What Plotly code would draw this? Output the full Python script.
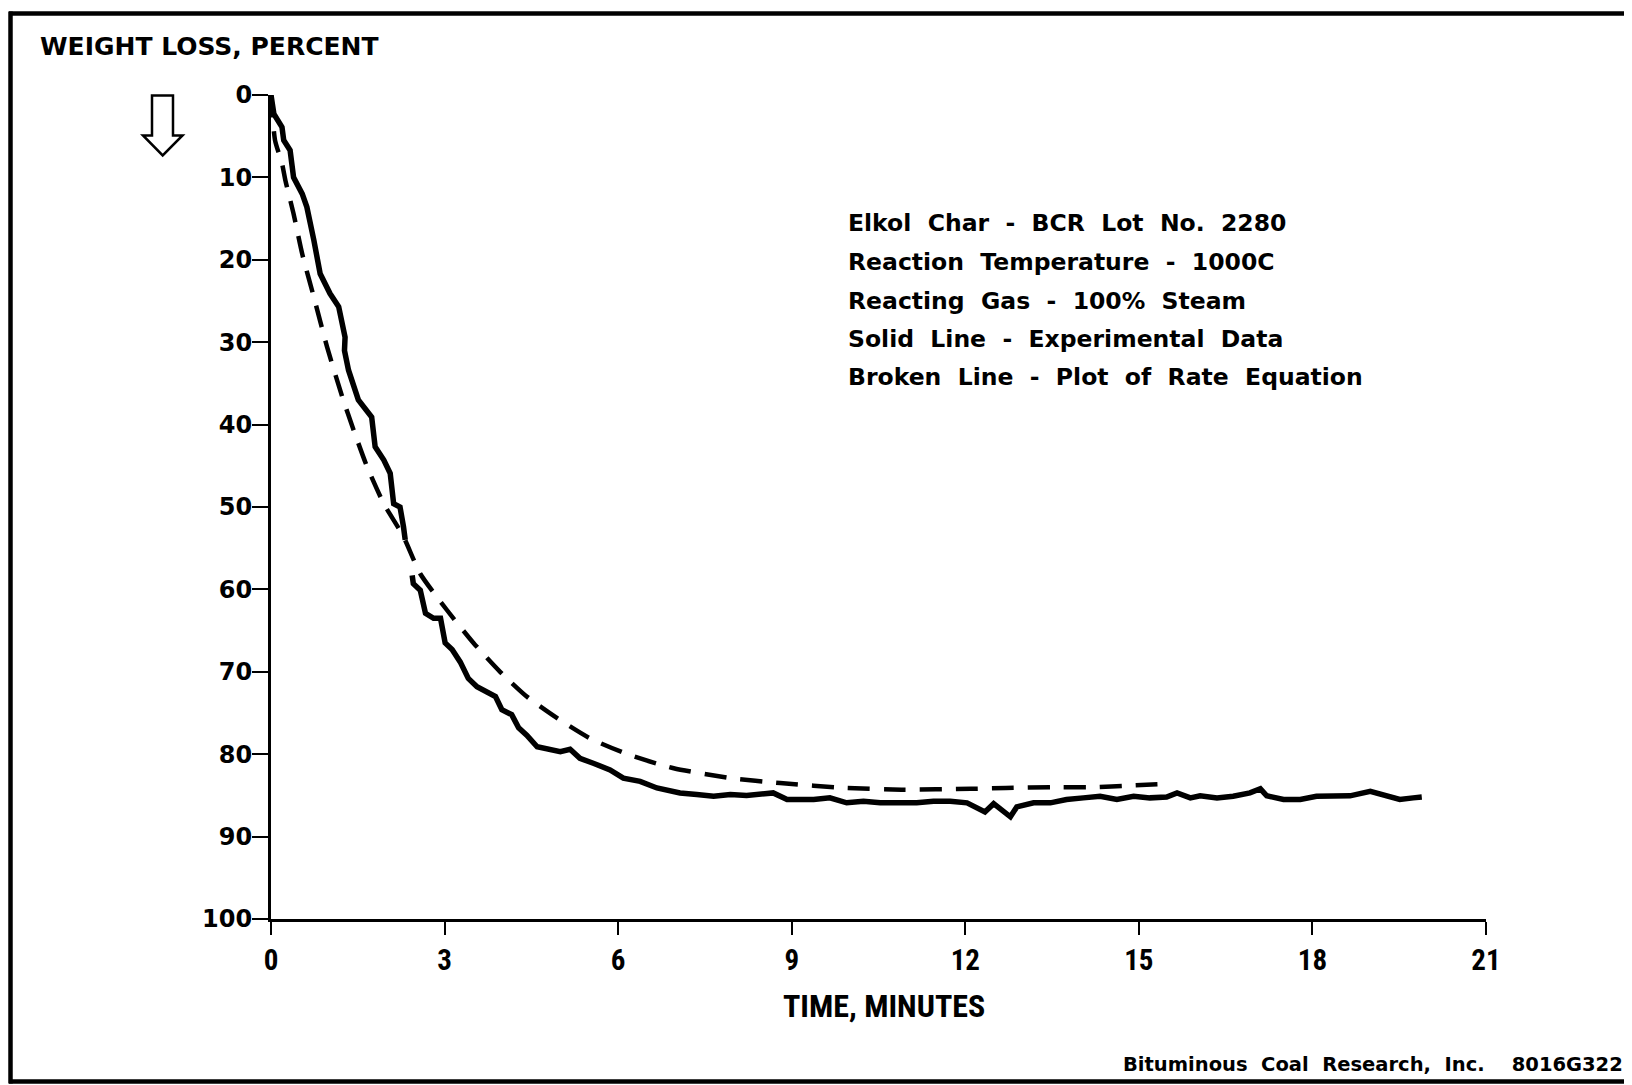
import plotly.graph_objects as go

# ---------------- data ----------------
exp_t = [0, 0.05, 0.19, 0.22, 0.33, 0.39, 0.54, 0.62, 0.74, 0.85,
         1.02, 1.17, 1.28, 1.27, 1.34, 1.51, 1.74, 1.80, 1.95, 2.06,
         2.12, 2.23, 2.29, 2.32, None, 2.44, 2.46, 2.58, 2.61, 2.67,
         2.81, 2.93, 3.01, 3.13, 3.27, 3.41, 3.56, 3.79, 3.88, 3.99,
         4.16, 4.28, 4.42, 4.60, 4.83, 5.00, 5.17, 5.34, 5.57, 5.86,
         6.09, 6.38, 6.67, 7.07, 7.36, 7.65, 7.94, 8.22, 8.68, 8.92,
         9.38, 9.66, 9.95, 10.24, 10.53, 10.87, 11.16, 11.45, 11.74, 12.03,
         12.34, 12.49, 12.78, 12.89, 13.18, 13.47, 13.75, 14.04, 14.33, 14.62,
         14.91, 15.19, 15.48, 15.66, 15.89, 16.06, 16.35, 16.63, 16.92, 17.10,
         17.21, 17.50, 17.79, 18.07, 18.36, 18.65, 19.00, 19.23, 19.51, 19.74,
         19.89]
exp_w = [0, 2.3, 3.9, 5.5, 6.7, 10.0, 12.0, 13.6, 17.6, 21.7,
         24.1, 25.7, 29.4, 31.0, 33.4, 37.0, 39.1, 42.7, 44.3, 45.9,
         49.6, 50.0, 52.4, 54.0, None, 58.3, 59.3, 60.1, 61.3, 62.9,
         63.5, 63.5, 66.5, 67.3, 68.8, 70.8, 71.8, 72.6, 73.0, 74.6,
         75.2, 76.8, 77.7, 79.1, 79.5, 79.7, 79.4, 80.5, 81.1, 81.9,
         82.9, 83.3, 84.1, 84.7, 84.9, 85.1, 84.9, 85.0, 84.7, 85.5,
         85.5, 85.3, 85.9, 85.7, 85.9, 85.9, 85.9, 85.7, 85.7, 85.9,
         87.0, 86.0, 87.6, 86.4, 85.9, 85.9, 85.5, 85.3, 85.1, 85.5,
         85.1, 85.3, 85.2, 84.7, 85.3, 85.05, 85.3, 85.1, 84.7, 84.2,
         85.05, 85.5, 85.5, 85.1, 85.05, 85.05, 84.5, 84.9, 85.5, 85.3,
         85.2]

rate_t = [0, 0.07, 0.19, 0.25, 0.39, 0.54, 0.74, 0.97, 1.23, 1.43,
          1.66, 1.95, 2.29, 2.58, 3.04, 3.50, 3.96, 4.42, 4.94, 5.52,
          6.20, 6.96, 7.94, 8.80, 9.95, 10.9, 12.1, 12.7, 13.5, 14.2,
          14.85, 15.5]
rate_w = [0, 5.5, 8.3, 10.4, 14.4, 19.3, 24.5, 30.6, 36.6, 40.7,
          45.1, 49.6, 53.6, 58.1, 62.5, 66.5, 70.0, 73.0, 75.6, 78.1,
          80.1, 81.7, 82.9, 83.5, 84.1, 84.3, 84.2, 84.1, 84.0, 84.0,
          83.8, 83.6]

x_ticks = [0, 3, 6, 9, 12, 15, 18, 21]
y_ticks = [0, 10, 20, 30, 40, 50, 60, 70, 80, 90, 100]

y_title = "WEIGHT LOSS, PERCENT"
x_title = "TIME, MINUTES"
info_lines = [
    "Elkol Char - BCR Lot No. 2280",
    "Reaction Temperature - 1000C",
    "Reacting Gas - 100% Steam",
    "Solid Line - Experimental Data",
    "Broken Line - Plot of Rate Equation",
]
credit = "Bituminous Coal Research, Inc.  8016G322"

# ---------------- layout geometry (page pixels) ----------------
OFF = 8  # default page body margin of the written HTML
W, H = 1632 - OFF, 1085 - OFF
L, R, T, B = 271 - OFF, 1486 - OFF, 94.5 - OFF, 919.3 - OFF


def px(x):
    return (x - OFF - L) / (R - L)


def py(y):
    return (B - (y - OFF)) / (B - T)


def spaced(s):
    return s.replace(" ", "\u00a0\u00a0")


BOLD = "DejaVu Sans"
NARROW = "Liberation Sans Narrow, Roboto Condensed, DejaVu Sans Condensed, Liberation Sans"

fig = go.Figure()
fig.add_trace(go.Scatter(x=exp_t, y=exp_w, mode="lines", connectgaps=False,
                         line=dict(color="black", width=5.5), hoverinfo="skip",
                         showlegend=False))
fig.add_trace(go.Scatter(x=rate_t, y=rate_w, mode="lines",
                         line=dict(color="black", width=4.5, dash="22px,14px",
                                   shape="spline", smoothing=0.6),
                         hoverinfo="skip", showlegend=False))

fig.update_layout(
    width=W, height=H,
    margin=dict(l=L, r=W - R, t=T, b=H - B, pad=0),
    paper_bgcolor="white", plot_bgcolor="white",
    xaxis=dict(range=[0, 21], tickvals=x_ticks, ticktext=[str(v) for v in x_ticks],
               showgrid=False, zeroline=False, showline=True, linecolor="black",
               linewidth=2.5, ticks="outside", ticklen=13, tickwidth=2,
               tickcolor="black", ticklabelstandoff=0,
               tickfont=dict(family=NARROW, size=29, color="black", weight="bold")),
    yaxis=dict(range=[100, 0], tickvals=y_ticks, ticktext=[str(v) for v in y_ticks],
               showgrid=False, zeroline=False, showline=True, linecolor="black",
               linewidth=3, ticks="outside", ticklen=16, tickwidth=2,
               tickcolor="black", ticklabelstandoff=-5,
               tickfont=dict(family=BOLD, size=24, color="black", weight="bold")),
)

annotations = []
annotations.append(dict(text=y_title, x=px(38), y=py(45.5), xref="paper", yref="paper",
                        xanchor="left", yanchor="middle", showarrow=False,
                        font=dict(family=BOLD, size=25, color="black", weight="bold")))
annotations.append(dict(text=x_title, x=px(884), y=py(1006), xref="paper", yref="paper",
                        xanchor="center", yanchor="middle", showarrow=False,
                        font=dict(family=NARROW, size=32, color="black", weight="bold")))
line_y = [222.8, 261.2, 300.8, 338.3, 376.8]
for txt, yy in zip(info_lines, line_y):
    annotations.append(dict(text=spaced(txt), x=px(846), y=py(yy), xref="paper", yref="paper",
                            xanchor="left", yanchor="middle", showarrow=False,
                            font=dict(family=BOLD, size=23.5, color="black", weight="bold")))
annotations.append(dict(text=spaced(credit), x=px(1625), y=py(1065),
                        xref="paper", yref="paper", xanchor="right", yanchor="middle",
                        showarrow=False,
                        font=dict(family=BOLD, size=19.5, color="black", weight="bold")))
fig.update_layout(annotations=annotations)

# frame and hollow arrow
shapes = []
frame = [((9, 13), (1632, 13)), ((10.5, 11), (10.5, 1084)), ((9, 1082), (1632, 1082))]
for (x0, y0), (x1, y1) in frame:
    shapes.append(dict(type="line", xref="paper", yref="paper",
                       x0=px(x0), y0=py(y0), x1=px(x1), y1=py(y1),
                       line=dict(color="black", width=4.5)))
arrow_pts = [(152, 95), (173, 95), (173, 135), (182.5, 135), (162.7, 155),
             (143, 135), (152, 135)]
path = "M " + " L ".join(f"{px(a):.5f},{py(b):.5f}" for a, b in arrow_pts) + " Z"
shapes.append(dict(type="path", xref="paper", yref="paper", path=path,
                   line=dict(color="black", width=2.5), fillcolor="rgba(0,0,0,0)"))
fig.update_layout(shapes=shapes)

fig.write_html("out.html")
